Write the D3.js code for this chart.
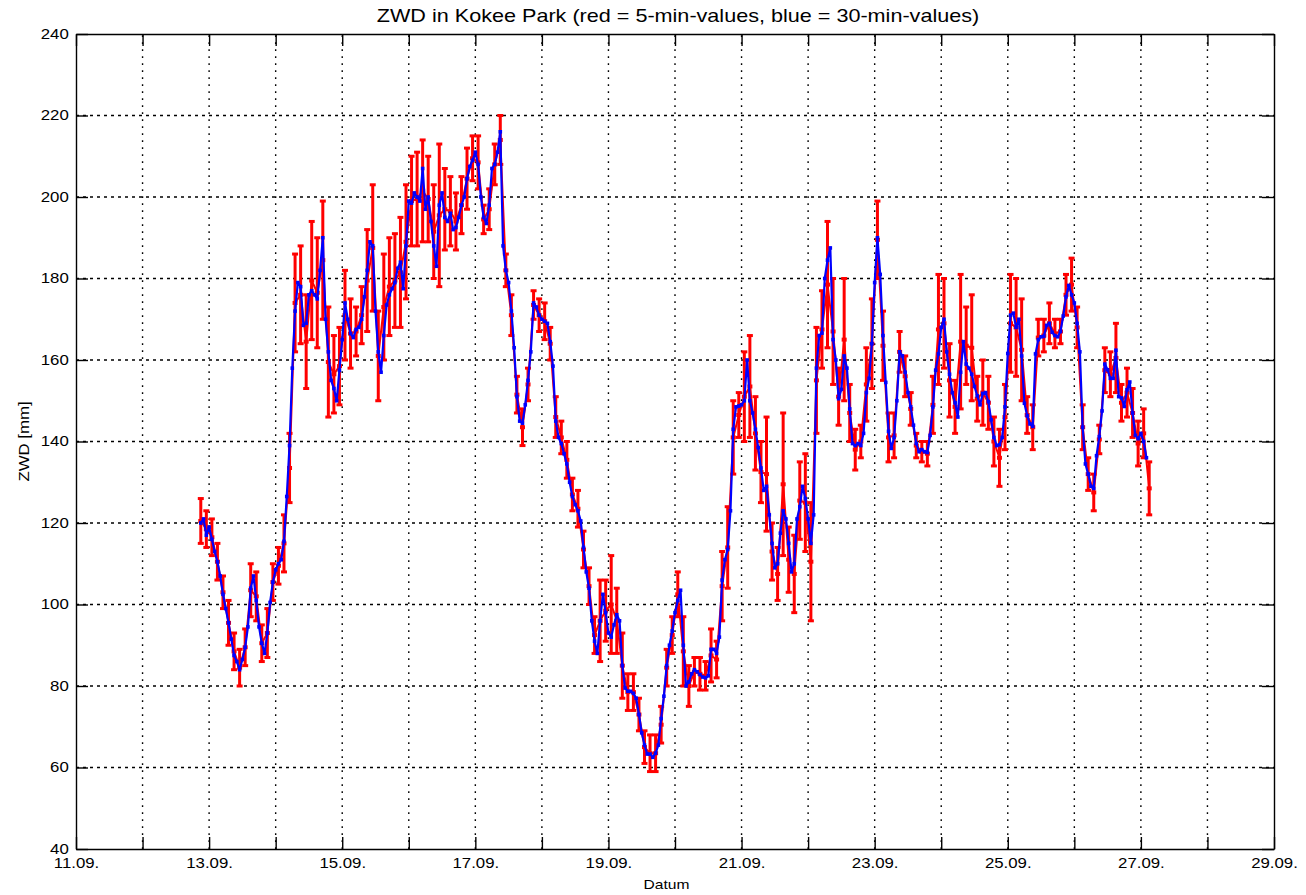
<!DOCTYPE html>
<html>
<head>
<meta charset="utf-8">
<script src="https://cdn.jsdelivr.net/npm/d3@7"></script>
<style>
  body { margin: 0; background: #fff; }
  text { font-family: "Liberation Sans", Arial, Helvetica, sans-serif; fill: #000; }
</style>
</head>
<body>
<div id="chart"></div>
<script>
// Time axis = day of September as a decimal number (13.5 = 13.09. 12:00)
const dayTicks = d3.range(11, 30);       // a tick on every day
const zwdTicks = d3.range(40, 241, 20);  // ZWD ticks in mm

const blueStart = 12 + 21 / 24;
const blueStep = 1 / 24;
const blueZwd = [
  // 12.09.
  120, 121, 117,
  // 13.09.
  119, 116, 113, 110.5, 107, 102.5, 99, 95.5, 91.5, 87.5, 86, 84, 86.5, 89.5, 94.5, 104, 107, 101, 94.5, 90.5, 88, 93, 100.5, 105.5,
  // 14.09.
  108.5, 110, 111, 115.5, 126.5, 139, 158, 172, 179, 178, 168.5, 169, 176, 177, 176, 175, 182, 190, 170, 162, 155, 153, 150, 157.5,
  // 15.09.
  165, 174, 170, 166.5, 165.5, 167.5, 168, 170, 175.5, 182, 189, 188, 172, 162, 157, 166, 173.5, 176, 177.5, 179, 182.5, 184, 177.5, 188,
  // 16.09.
  199, 198.5, 201, 200, 199, 207, 197, 200, 194, 188, 183, 198, 201, 195, 194, 196, 192, 192.5, 195, 198, 200, 204.5, 207.5, 209,
  // 17.09.
  211, 208, 200, 195, 193.5, 198, 207, 208, 211, 216, 188, 182, 179, 172, 163, 151, 145, 144.5, 149, 155, 162, 174, 173, 171,
  // 18.09.
  170, 169.5, 169, 164.5, 158.5, 145, 141, 139.5, 137, 134.5, 130, 126.5, 124.5, 123, 120.5, 114, 108, 104, 96, 91, 88, 96, 102.5, 98,
  // 19.09.
  93, 92, 95, 97.5, 96, 85, 79.5, 78.7, 78.7, 78.2, 77, 73, 68.5, 65.5, 63.3, 63.3, 62.5, 63.5, 65.5, 72, 77.5, 85, 90, 93.5,
  // 20.09.
  98, 101, 103.5, 90, 80, 81, 83, 84, 83.5, 82.8, 82.2, 82, 82.5, 89, 89, 88, 92, 106, 111, 113.5, 123, 143, 148.5, 148.7,
  // 21.09.
  149, 150, 160, 150, 147, 143, 138.5, 133.5, 128, 129, 122, 115, 109, 110, 117.5, 123, 121, 115, 108, 110, 121, 124, 129, 126,
  // 22.09.
  121, 115, 122, 158, 166, 166.6, 180, 184.5, 187.5, 165, 160, 150.5, 152.8, 161, 158, 148, 139.5, 139, 139.5, 139, 142, 152, 155.5, 164,
  // 23.09.
  179, 190, 181, 166, 154.5, 142.5, 138.3, 141, 150, 162, 161, 157, 152, 148.5, 144, 139.5, 137.5, 138, 137.5, 137.3, 141.5, 148.5, 157.5, 161.5,
  // 24.09.
  168, 170, 162, 156.5, 152, 149.5, 146, 157, 164.5, 159, 158, 156.5, 153.5, 151.2, 149, 151.8, 152, 149.8, 145.3, 141, 139, 139.2, 141, 148.5,
  // 25.09.
  161.6, 171, 171.5, 168, 170, 161, 149.4, 146.3, 144.3, 143.7, 161.5, 165, 165.7, 165.8, 168.5, 169, 166.8, 166, 165.7, 167, 170.8, 175.5, 178.3, 176,
  // 26.09.
  174, 169, 162, 143.5, 134.5, 132, 129, 128.5, 136.5, 141.2, 147.5, 159, 157.6, 155.5, 155.5, 162.4, 151, 150.7, 148.6, 152.7, 154.6, 147, 141.5, 140.7,
  // 27.09.
  142, 140, 136
];

// Red: extent of the 5-min values with their error bars, every 2 hours from 12.09. 21:00
const redStart = 12 + 21 / 24;
const redStep = 2 / 24;
const redLow = [
  115, 114,
  112, 106, 99, 90, 84, 80, 85, 97, 96, 86, 87, 101,
  105, 108, 125, 162, 164, 153, 165, 163, 170, 146, 147, 149,
  160, 158, 161, 164, 167, 172, 150, 160, 166, 168, 168, 175,
  188, 188, 189, 189, 180, 178, 187, 188, 187, 191, 197, 204,
  202, 191, 192, 203, 208, 178, 166, 147, 139, 150, 170, 167,
  165, 160, 141, 137, 131, 123, 119, 109, 100, 88, 86, 91,
  88, 88, 77, 74, 74, 69, 61, 59, 59, 66, 80, 88,
  97, 80, 75, 80, 79, 79, 81, 82, 96, 104, 132, 141,
  140, 141, 133, 125, 118, 106, 101, 112, 103, 98, 116, 113,
  96, 142, 158, 163, 154, 144, 150, 140, 133, 136, 145, 153,
  180, 155, 135, 136, 157, 151, 144, 136, 135, 134, 142, 154,
  158, 146, 142, 148, 154, 150, 145, 144, 143, 134, 129, 138,
  157, 156, 150, 142, 138, 161, 162, 164, 163, 164, 171, 172,
  163, 138, 128, 123, 137, 152, 151, 152, 145, 146, 141, 134,
  136, 122
];
const redHigh = [
  126, 123,
  121, 115, 107, 101, 93, 89, 94, 110, 108, 95, 99, 110,
  114, 122, 142, 186, 188, 176, 194, 190, 199, 173, 166, 168,
  182, 175, 173, 178, 192, 203, 172, 186, 190, 191, 195, 203,
  210, 211, 214, 210, 203, 213, 207, 205, 201, 205, 212, 215,
  215, 198, 202, 213, 220, 186, 176, 156, 148, 158, 177, 175,
  174, 168, 151, 145, 140, 131, 128, 118, 109, 97, 106, 106,
  112, 104, 93, 83, 83, 77, 69, 68, 68, 75, 89, 97,
  108, 97, 85, 87, 87, 86, 94, 91, 113, 124, 150, 152,
  162, 166, 151, 140, 146, 120, 114, 147, 119, 117, 135, 137,
  125, 168, 177, 194, 180, 158, 180, 154, 143, 144, 163, 175,
  199, 172, 147, 147, 167, 161, 152, 142, 140, 140, 156, 181,
  180, 164, 155, 181, 173, 176, 156, 160, 156, 146, 143, 154,
  181, 180, 175, 151, 149, 170, 170, 174, 170, 170, 181, 185,
  173, 149, 136, 132, 144, 163, 162, 169, 154, 158, 153, 145,
  148, 135
];

const width = 1306, height = 895;
const margin = { top: 34, right: 32, bottom: 46, left: 76 };
const stretch = "scale(1.2,1)";  // the original lettering is wide

const x = d3.scaleLinear().domain([11, 29]).range([margin.left, width - margin.right]);
const y = d3.scaleLinear().domain([40, 240]).range([height - margin.bottom, margin.top]);

const blueData = blueZwd.map((v, i) => ({ t: blueStart + i * blueStep, v }));
const redData = redLow.map((lo, i) => ({ t: redStart + i * redStep, lo, hi: redHigh[i] }));

const svg = d3.select("#chart").append("svg")
  .attr("width", width)
  .attr("height", height);

// dotted grid
svg.append("g")
  .selectAll("line")
  .data(dayTicks.slice(1, -1))
  .join("line")
  .attr("x1", d => x(d)).attr("x2", d => x(d))
  .attr("y1", y(40)).attr("y2", y(240))
  .attr("stroke", "#000")
  .attr("stroke-width", 1.4)
  .attr("stroke-dasharray", "1.8,5.2");

svg.append("g")
  .selectAll("line")
  .data(zwdTicks.slice(1, -1))
  .join("line")
  .attr("x1", x(11)).attr("x2", x(29))
  .attr("y1", d => y(d)).attr("y2", d => y(d))
  .attr("stroke", "#000")
  .attr("stroke-width", 1.4)
  .attr("stroke-dasharray", "3,4");

// red 5-min values with error bars
const red = svg.append("g").attr("stroke", "#ff0000").attr("fill", "#ff0000");

red.append("path")
  .datum(redData)
  .attr("fill", "none")
  .attr("stroke-width", 2)
  .attr("d", d3.line().x(d => x(d.t)).y(d => y((d.lo + d.hi) / 2)));

red.selectAll(".bar")
  .data(redData)
  .join("line")
  .attr("class", "bar")
  .attr("x1", d => x(d.t)).attr("x2", d => x(d.t))
  .attr("y1", d => y(d.lo)).attr("y2", d => y(d.hi))
  .attr("stroke-width", 3);

red.selectAll(".cap")
  .data(redData.flatMap(d => [{ t: d.t, v: d.lo }, { t: d.t, v: d.hi }]))
  .join("line")
  .attr("class", "cap")
  .attr("x1", d => x(d.t) - 3).attr("x2", d => x(d.t) + 3)
  .attr("y1", d => y(d.v)).attr("y2", d => y(d.v))
  .attr("stroke-width", 3);

red.selectAll(".dot")
  .data(redData)
  .join("rect")
  .attr("class", "dot")
  .attr("x", d => x(d.t) - 2.5)
  .attr("y", d => y((d.lo + d.hi) / 2) - 2)
  .attr("width", 5).attr("height", 4)
  .attr("stroke", "none");

// blue 30-min values
svg.append("path")
  .datum(blueData)
  .attr("fill", "none")
  .attr("stroke", "#0000ff")
  .attr("stroke-width", 2.2)
  .attr("stroke-linejoin", "round")
  .attr("d", d3.line().x(d => x(d.t)).y(d => y(d.v)));

svg.append("g")
  .selectAll("rect")
  .data(blueData)
  .join("rect")
  .attr("x", d => x(d.t) - 1.8)
  .attr("y", d => y(d.v) - 1.8)
  .attr("width", 3.6).attr("height", 3.6)
  .attr("fill", "#0000ff");

// axes: ticks point inwards on all four sides
function styleAxis(g) {
  g.attr("font-size", 14).attr("font-family", "Liberation Sans, Arial, sans-serif");
  g.selectAll("line, path").attr("stroke", "#000").attr("stroke-width", 1.4);
  g.selectAll("text").attr("transform", stretch);
}

svg.append("g")
  .attr("transform", `translate(0,${y(40)})`)
  .call(d3.axisBottom(x).tickValues(dayTicks).tickSizeInner(-12).tickSizeOuter(0).tickPadding(9)
    .tickFormat(d => d % 2 === 1 ? `${d}.09.` : ""))
  .call(styleAxis);

svg.append("g")
  .attr("transform", `translate(0,${y(240)})`)
  .call(d3.axisTop(x).tickValues(dayTicks).tickSizeInner(-12).tickSizeOuter(0).tickFormat(""))
  .call(styleAxis);

svg.append("g")
  .attr("transform", `translate(${x(11)},0)`)
  .call(d3.axisLeft(y).tickValues(zwdTicks).tickSizeInner(-12).tickSizeOuter(0).tickPadding(6))
  .call(styleAxis);

svg.append("g")
  .attr("transform", `translate(${x(29)},0)`)
  .call(d3.axisRight(y).tickValues(zwdTicks).tickSizeInner(-12).tickSizeOuter(0).tickFormat(""))
  .call(styleAxis);

// titles
svg.append("text")
  .attr("transform", `translate(678,22) ${stretch}`)
  .attr("text-anchor", "middle")
  .style("font-size", "18px")
  .text("ZWD in Kokee Park (red = 5-min-values, blue = 30-min-values)");

svg.append("text")
  .attr("transform", `translate(29,${(y(40) + y(240)) / 2}) rotate(-90) ${stretch}`)
  .attr("text-anchor", "middle")
  .style("font-size", "14px")
  .text("ZWD [mm]");

svg.append("text")
  .attr("transform", `translate(666.5,889) ${stretch}`)
  .attr("text-anchor", "middle")
  .style("font-size", "13px")
  .text("Datum");
</script>
</body>
</html>
